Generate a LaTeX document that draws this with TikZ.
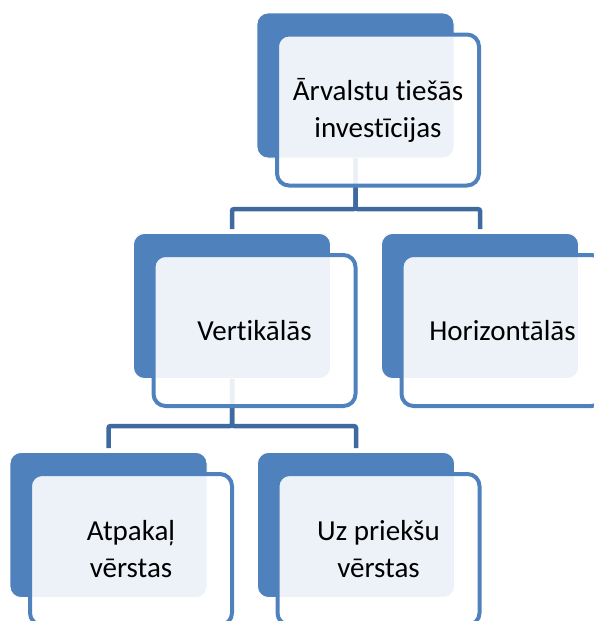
\documentclass[tikz,border=0pt]{standalone}
\usepackage{fontspec}
\setmainfont{Carlito}[Ligatures=NoCommon]
\definecolor{accent}{RGB}{79,129,189}
\definecolor{linkblue}{RGB}{62,106,160}

\begin{document}
\begin{tikzpicture}[x=1pt, y=-1pt,
  font=\fontsize{29}{37}\selectfont,
  back/.style={fill=accent, draw=white, line width=0.8pt,
               rounded corners=11pt, inner sep=0pt,
               minimum width=197pt, minimum height=145pt},
  front/.style={fill=white, fill opacity=0.9, text opacity=1,
                draw=accent, line width=4pt, rounded corners=12pt,
                inner sep=0pt, align=center,
                minimum width=202pt, minimum height=151pt},
  link/.style={draw=linkblue, line width=4.5pt, rounded corners=2pt,
               shorten >=4pt}
]
  \useasboundingbox (0,0) rectangle (594,621);

  \node[back] (fdi-back)   at (355.5,85.5) {};
  \node[back] (vert-back)  at (232,306)    {};
  \node[back] (horiz-back) at (480,306)    {};
  \node[back] (atp-back)   at (108.5,525)  {};
  \node[back] (uzp-back)   at (356,525)    {};

  \draw[link] (fdi-back.south) |- ([yshift=24pt]vert-back.north)
              -- (vert-back.north);
  \draw[link] (fdi-back.south) |- ([yshift=24pt]horiz-back.north)
              -- (horiz-back.north);
  \draw[link] (vert-back.south) |- ([yshift=26pt]atp-back.north)
              -- (atp-back.north);
  \draw[link] (vert-back.south) |- ([yshift=26pt]uzp-back.north)
              -- (uzp-back.north);

  \node[front] (fdi)   at ([shift={(22.5pt,-24.5pt)}]fdi-back.center)
        {Ārvalstu tiešās\\investīcijas};
  \node[front] (vert)  at ([shift={(22.5pt,-24.5pt)}]vert-back.center)
        {Vertikālās};
  \node[front] (horiz) at ([shift={(22.5pt,-24.5pt)}]horiz-back.center)
        {Horizontālās};
  \node[front] (atp)   at ([shift={(22.5pt,-24.5pt)}]atp-back.center)
        {Atpakaļ\\vērstas};
  \node[front] (uzp)   at ([shift={(22.5pt,-24.5pt)}]uzp-back.center)
        {Uz priekšu\\vērstas};
\end{tikzpicture}
\end{document}
